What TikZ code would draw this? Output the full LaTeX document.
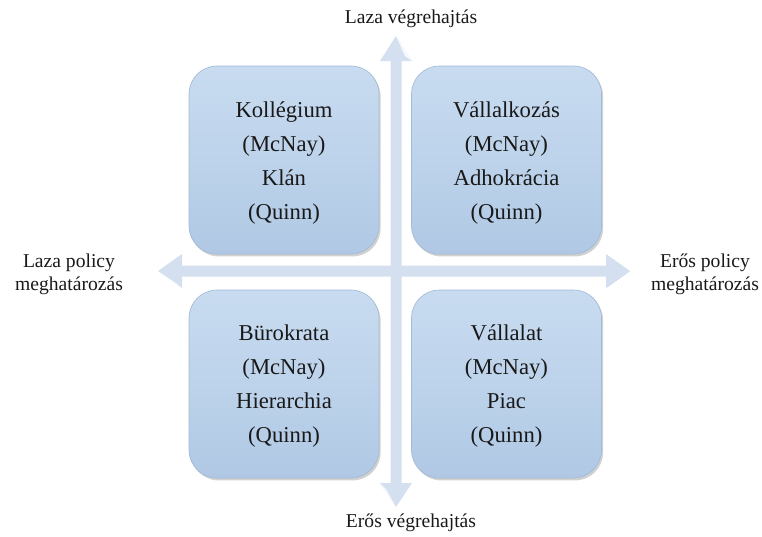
\documentclass[tikz,border=0pt]{standalone}
\usepackage{fontspec}
\setmainfont{Liberation Serif}
\usetikzlibrary{shadows}
\definecolor{axisblue}{RGB}{212,224,239}
\definecolor{axisshine}{RGB}{246,249,253}
\definecolor{axisdark}{RGB}{198,213,232}
\definecolor{boxtop}{RGB}{200,219,240}
\definecolor{boxmid}{RGB}{189,211,235}
\definecolor{boxbot}{RGB}{176,200,228}
\definecolor{boxrim}{RGB}{163,187,216}
\tikzset{
  quad/.style={rectangle, rounded corners=21pt, minimum width=142.5pt,
    minimum height=141pt, top color=boxtop, bottom color=boxbot,
    middle color=boxmid, draw=boxrim, line width=0.5pt,
    drop shadow={shadow xshift=1.2pt, shadow yshift=-1.8pt,
      opacity=0.3, fill=black!60}},
  quadtext/.style={align=center, font=\fontsize{17}{25.5}\selectfont,
    text=black!90},
  axislabel/.style={align=center, font=\fontsize{14.7}{17.4}\selectfont,
    text=black!90},
  axisfill/.style={fill=axisblue, draw=none},
  shine/.style={fill=axisshine, draw=none},
  shade/.style={fill=axisdark, draw=none}
}
\begin{document}
\begin{tikzpicture}[x=0.75pt, y=-0.75pt]
\useasboundingbox (0,0) rectangle (762,536);

% arrow tips and head geometry
\coordinate (lt) at (158,271);
\coordinate (rt) at (630,271);
\coordinate (ut) at (396,36);
\coordinate (dt) at (396,507);

% horizontal double arrow
\fill[axisfill] (lt) -- (182,254) -- (182,265.5) -- (606,265.5) -- (606,254)
  -- (rt) -- (606,288) -- (606,276.5) -- (182,276.5) -- (182,288) -- cycle;
% vertical double arrow
\fill[axisfill] (ut) -- (412,61) -- (401.5,61) -- (401.5,483) -- (412,483)
  -- (dt) -- (380,483) -- (390.5,483) -- (390.5,61) -- (380,61) -- cycle;

% bevel facets on the heads
\fill[shine] (lt) -- (182,288) -- (176,283) -- cycle;
\fill[shine] (ut) -- (412,61) -- (405,56) -- cycle;
\fill[shine] (dt) -- (380,483) -- (386,489) -- cycle;
\fill[shade] (rt) -- (606,288) -- (612,283) -- cycle;

% quadrant boxes
\node[quad] (kolbox) at (284,160) {};
\node[quad] (vlkbox) at (506.5,160) {};
\node[quad] (burbox) at (284,384) {};
\node[quad] (vltbox) at (506.5,384) {};

% quadrant texts
\node[quadtext] (kol) at (284,163.5) {Kollégium\\(McNay)\\Klán\\(Quinn)};
\node[quadtext] (vlk) at (506.5,163.5) {Vállalkozás\\(McNay)\\Adhokrácia\\(Quinn)};
\node[quadtext] (bur) at (284,386) {Bürokrata\\(McNay)\\Hierarchia\\(Quinn)};
\node[quadtext] (vlt) at (506.5,386) {Vállalat\\(McNay)\\Piac\\(Quinn)};

% axis labels
\node[axislabel] (top) at (411,19) {Laza végrehajtás};
\node[axislabel] (bottom) at (411,523) {Erős végrehajtás};
\node[axislabel] (left) at (69,274) {Laza policy\\meghatározás};
\node[axislabel] (right) at (705,274) {Erős policy\\meghatározás};
\end{tikzpicture}
\end{document}
